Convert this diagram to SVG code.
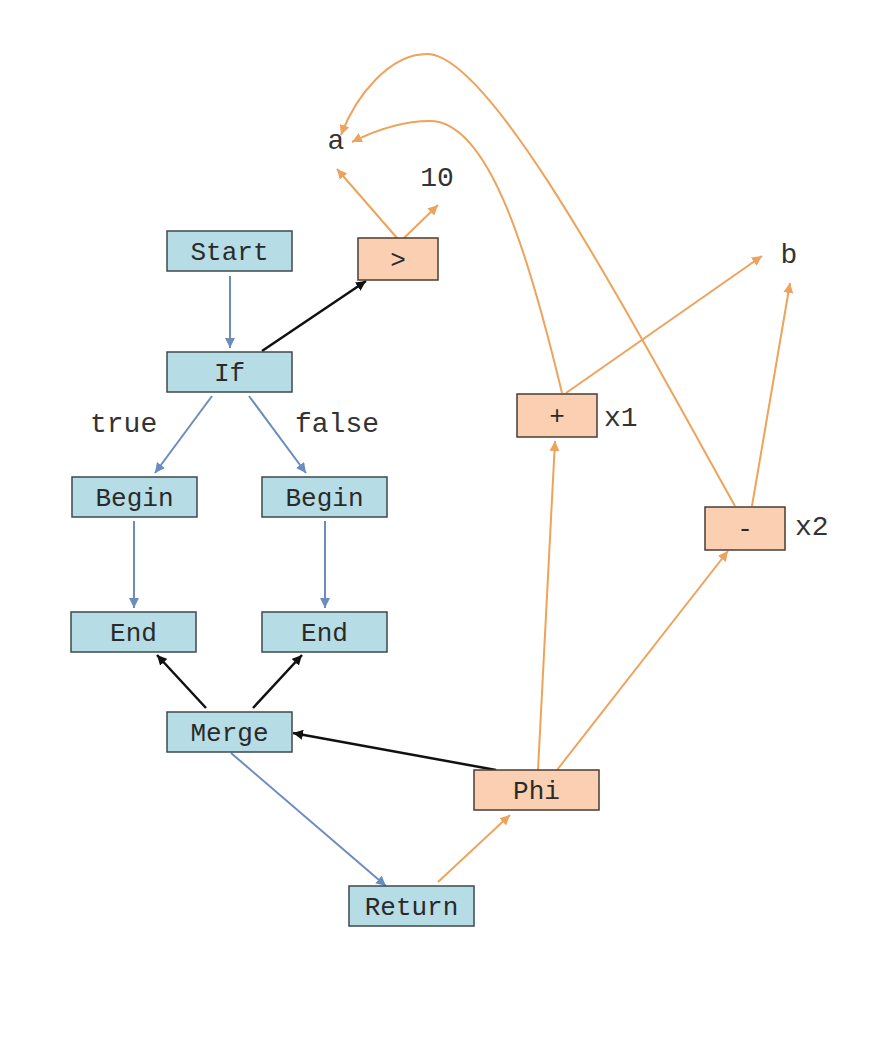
<svg xmlns="http://www.w3.org/2000/svg" width="887" height="1046" viewBox="0 0 887 1046">
<style>
.nb{fill:#b6dce5;stroke:#3c4a4e;stroke-width:1.5}
.no{fill:#fbd0b2;stroke:#4a3c34;stroke-width:1.5}
.t{font-family:"Liberation Mono","Courier New",monospace;font-size:26px;fill:#2a2a2a;text-anchor:middle}
.l{font-family:"Liberation Mono","Courier New",monospace;font-size:28px;fill:#333}
.eb{stroke:#6a8dbd;stroke-width:2;fill:none;marker-end:url(#mb)}
.eo{stroke:#eea35c;stroke-width:2;fill:none;marker-end:url(#mo)}
.ek{stroke:#111;stroke-width:2.5;fill:none;marker-end:url(#mk)}
</style>
<defs>
<marker id="mb" markerUnits="userSpaceOnUse" markerWidth="12" markerHeight="10" refX="10" refY="5" orient="auto"><path d="M0,0 L10,5 L0,10 z" fill="#6a8dbd"/></marker>
<marker id="mo" markerUnits="userSpaceOnUse" markerWidth="12" markerHeight="10" refX="10" refY="5" orient="auto"><path d="M0,0 L10,5 L0,10 z" fill="#eea35c"/></marker>
<marker id="mk" markerUnits="userSpaceOnUse" markerWidth="12" markerHeight="10" refX="10" refY="5" orient="auto"><path d="M0,0 L10,5 L0,10 z" fill="#111"/></marker>
</defs>
<rect width="887" height="1046" fill="#fff"/>
<g id="connectors">
<line class="eb" x1="230" y1="276" x2="230" y2="348"/>
<line class="eb" x1="212" y1="396" x2="155" y2="473"/>
<line class="eb" x1="249" y1="396" x2="306" y2="473"/>
<line class="eb" x1="134" y1="521" x2="134" y2="608"/>
<line class="eb" x1="325" y1="521" x2="325" y2="608"/>
<line class="eb" x1="231" y1="753" x2="386" y2="886"/>
<line class="ek" x1="206" y1="708" x2="157" y2="655"/>
<line class="ek" x1="253" y1="708" x2="302" y2="655"/>
<line class="ek" x1="496" y1="770" x2="293" y2="733"/>
<line class="ek" x1="262" y1="351" x2="366" y2="281"/>
<line class="eo" x1="438" y1="882" x2="510" y2="815"/>
<line class="eo" x1="538" y1="770" x2="555" y2="441"/>
<line class="eo" x1="557" y1="770" x2="728" y2="551"/>
<line class="eo" x1="566" y1="393" x2="762" y2="256"/>
<line class="eo" x1="752" y1="506" x2="790" y2="283"/>
<line class="eo" x1="397" y1="238" x2="337" y2="169"/>
<line class="eo" x1="404" y1="238" x2="438" y2="205"/>
<path class="eo" d="M735,506 C620,300 490,54 427,54 C390,54 356,95 341,135"/>
<path class="eo" d="M562,393 C530,260 490,121 430,121 C400,121 372,132 352,142"/>
</g>
<g id="start"><rect class="nb" x="167" y="231" width="125" height="40"/><text class="t" x="229.5" y="260">Start</text></g>
<g id="if"><rect class="nb" x="167" y="352" width="125" height="40"/><text class="t" x="229.5" y="381">If</text></g>
<g id="gt"><rect class="no" x="358" y="238" width="80" height="42"/><text class="t" x="398" y="268">&gt;</text></g>
<g id="begin1"><rect class="nb" x="72" y="477" width="125" height="40"/><text class="t" x="134.5" y="506">Begin</text></g>
<g id="begin2"><rect class="nb" x="262" y="477" width="125" height="40"/><text class="t" x="324.5" y="506">Begin</text></g>
<g id="end1"><rect class="nb" x="71" y="612" width="125" height="40"/><text class="t" x="133.5" y="641">End</text></g>
<g id="end2"><rect class="nb" x="262" y="612" width="125" height="40"/><text class="t" x="324.5" y="641">End</text></g>
<g id="merge"><rect class="nb" x="167" y="712" width="125" height="40"/><text class="t" x="229.5" y="741">Merge</text></g>
<g id="phi"><rect class="no" x="474" y="770" width="125" height="40"/><text class="t" x="536.5" y="799">Phi</text></g>
<g id="return"><rect class="nb" x="349" y="886" width="125" height="40"/><text class="t" x="411.5" y="915">Return</text></g>
<g id="plus"><rect class="no" x="517" y="394" width="80" height="43"/><text class="t" x="557" y="424">+</text></g>
<g id="minus"><rect class="no" x="705" y="507" width="80" height="43"/><text class="t" x="745" y="537">-</text></g>
<g id="labels">
<text class="l" x="336" y="149" text-anchor="middle">a</text>
<text class="l" x="437" y="186" text-anchor="middle">10</text>
<text class="l" x="789" y="263" text-anchor="middle">b</text>
<text class="l" x="604" y="426">x1</text>
<text class="l" x="795" y="535">x2</text>
<text class="l" x="90" y="432">true</text>
<text class="l" x="295" y="432">false</text>
</g>
</svg>
